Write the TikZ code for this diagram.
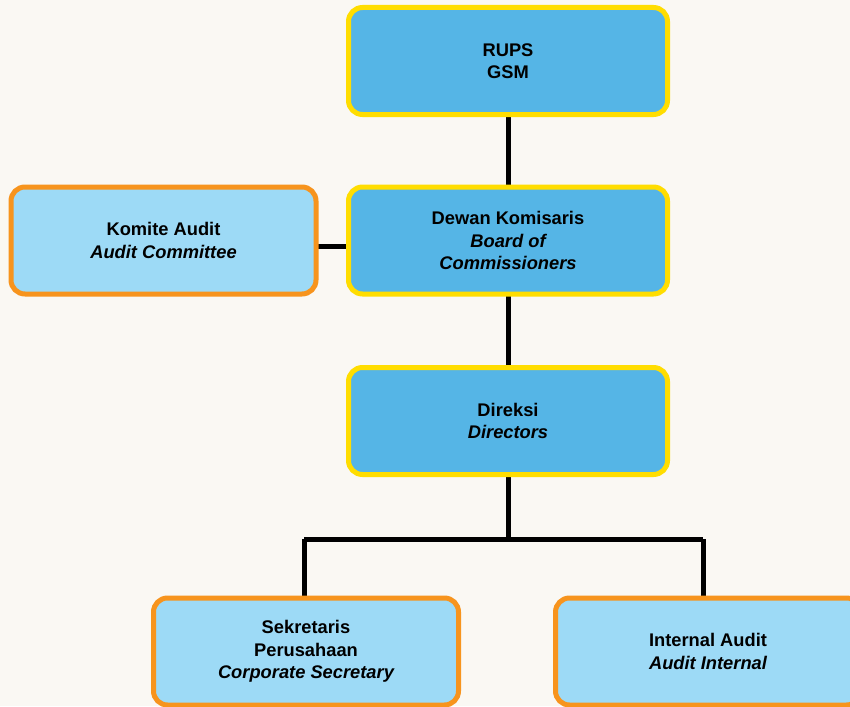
\documentclass[tikz,border=0pt]{standalone}
\usepackage{fontspec}
\setmainfont{Liberation Sans}
\definecolor{bgc}{HTML}{FAF8F3}
\definecolor{blue1}{HTML}{55B5E6}
\definecolor{blue2}{HTML}{9DDAF6}
\definecolor{yel}{HTML}{FFDD00}
\definecolor{ora}{HTML}{F7941D}
\pgfdeclarelayer{bglayer}
\pgfdeclarelayer{linelayer}
\pgfsetlayers{bglayer,linelayer,main}
\tikzset{
  box/.style={draw, line width=5pt, rounded corners=14pt, align=center,
    font=\fontsize{18.3}{22.5}\selectfont\bfseries, text=black, inner sep=0pt},
  mainbox/.style={box, fill=blue1, draw=yel, minimum width=319pt, minimum height=107pt},
  subbox/.style={box, fill=blue2, draw=ora, minimum width=305pt, minimum height=107pt},
  conn/.style={line width=5pt, draw=black}
}
\begin{document}
\begin{tikzpicture}[x=1pt,y=-1pt]
\clip (0,0) rectangle (850,706);
\begin{pgfonlayer}{bglayer}
\fill[bgc] (0,0) rectangle (850,706);
\end{pgfonlayer}
\node[mainbox] (rups) at (508,61) {RUPS\\GSM};
\node[mainbox] (dewan) at (508,240.5) {Dewan Komisaris\\\itshape Board of\\\itshape Commissioners};
\node[subbox] (komite) at (163.5,240.5) {Komite Audit\\\itshape Audit Committee};
\node[mainbox] (direksi) at (508,421) {Direksi\\\itshape Directors};
\node[subbox] (sek) at (306,651.5) {Sekretaris\\Perusahaan\\\itshape Corporate Secretary};
\node[subbox] (ia) at (708,651.5) {Internal Audit\\\itshape Audit Internal};
\coordinate (split) at (508,539);
\coordinate (leftc) at (304,539);
\coordinate (rightc) at (703,539);
\begin{pgfonlayer}{linelayer}
\draw[conn] (rups.center) -- (dewan.center);
\draw[conn] (dewan.center) -- (direksi.center);
\draw[conn] (komite.center |- 0,246) -- (dewan.center |- 0,246);
\draw[conn] (direksi.center) -- (split);
\draw[conn] (leftc) -- (rightc);
\draw[conn] (leftc) -- (leftc |- sek.center);
\draw[conn] (rightc) -- (rightc |- ia.center);
\end{pgfonlayer}
\end{tikzpicture}
\end{document}
